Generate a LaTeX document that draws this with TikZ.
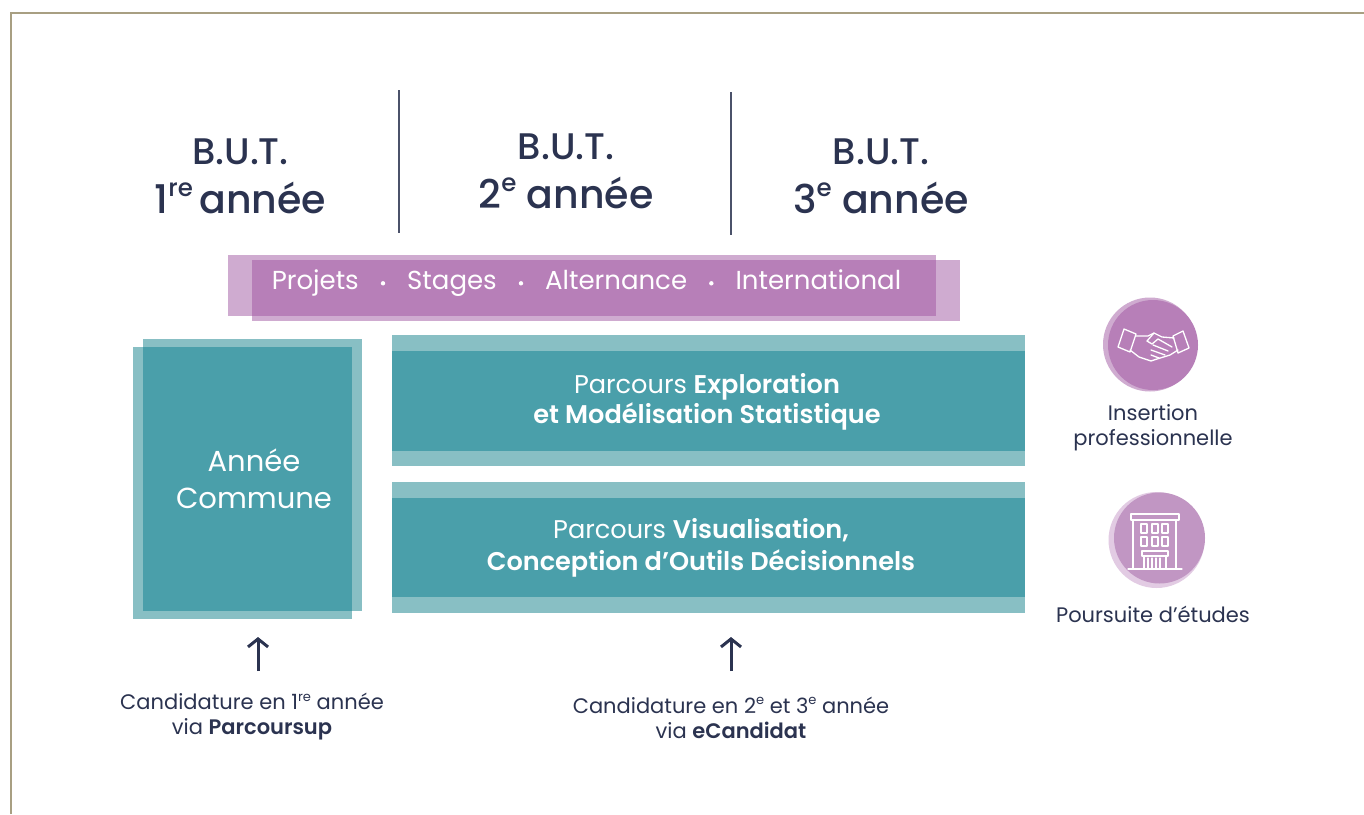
\documentclass[tikz,border=0pt]{standalone}
\usepackage{fontspec}
\setmainfont{Poppins}[BoldFont={Poppins SemiBold}]
\newfontfamily\medfont{Poppins Medium}
\definecolor{ink}{HTML}{2B3350}
\definecolor{purD}{HTML}{B77FB8}
\definecolor{purL}{HTML}{CFABD0}
\definecolor{purD2}{HTML}{C196C3}
\definecolor{purL2}{HTML}{E2CBE3}
\definecolor{tealD}{HTML}{4A9FAA}
\definecolor{tealL}{HTML}{88BFC4}
\definecolor{frame}{HTML}{A89F82}
\newcommand{\px}[1]{\fontsize{#1}{#1}\selectfont}
\newcommand{\sps}[1]{\raisebox{0.42em}{\scalebox{0.62}{#1}}}
\usetikzlibrary{arrows.meta}
\tikzset{
  x=1pt,y=-1pt,
  headtxt/.style={text=ink,align=center,font=\medfont\px{37},inner sep=0pt},
  boxtxt/.style={text=white,align=center,font=\px{25.6},inner sep=0pt},
  captxt/.style={text=ink,align=center,font=\px{21},inner sep=0pt},
  sep/.style={draw=ink!85,line width=1.1pt},
  uparrow/.style={draw=ink,line width=3pt,-{Straight Barb[length=8pt,width=20pt,line width=3pt]}},
  icon/.style={draw=white,line width=1.3pt,line join=round,line cap=round},
}
\begin{document}
\begin{tikzpicture}
\useasboundingbox (0,0) rectangle (1364,814);
\fill[white] (0,0) rectangle (1364,814);
\draw[frame,line width=2pt] (10.5,814) -- (10.5,12.5) -- (1364,12.5);

% separators
\coordinate (s1a) at (399,90); \coordinate (s1b) at (399,233);
\coordinate (s2a) at (731,92); \coordinate (s2b) at (731,235);
\draw[sep] (s1a) -- (s1b);
\draw[sep] (s2a) -- (s2b);

% headers
\node[headtxt] (h1) at (240.5,176) {B.U.T.\\[12pt]{\px{39.5}1\sps{re}\,année}};
\node[headtxt] (h2) at (566,171) {B.U.T.\\[12pt]{\px{39.5}2\sps{e} année}};
\node[headtxt] (h3) at (881,176) {B.U.T.\\[12pt]{\px{39.5}3\sps{e} année}};

% purple band
\fill[purL] (228,255) rectangle (936,316);
\fill[purL] (252,260) rectangle (960,321);
\fill[purD] (252,260) rectangle (936,316);
\node[text=white,font=\px{26},inner sep=0pt,anchor=base] (band) at (586.5,289)
  {Projets\hspace{22pt}\raisebox{3.5pt}{\tikz\fill[white] (0,0) circle (2.2pt);}\hspace{22pt}Stages\hspace{22pt}\raisebox{3.5pt}{\tikz\fill[white] (0,0) circle (2.2pt);}\hspace{22pt}Alternance\hspace{22pt}\raisebox{3.5pt}{\tikz\fill[white] (0,0) circle (2.2pt);}\hspace{22pt}International};

% common year box
\fill[tealL] (133,347) rectangle (352,619);
\fill[tealL] (143,339) rectangle (362,611);
\fill[tealD] (143,347) rectangle (352,611);
\node[text=white,align=center,font=\px{29},inner sep=0pt] (commune) at (254,479) {Année\\[8pt]Commune};

% parcours boxes
\fill[tealL] (392,335) rectangle (1025,466);
\fill[tealD] (392,351) rectangle (1025,451);
\node[boxtxt] (p1) at (707,401.5) {Parcours \textbf{Exploration}\\[1.5pt]\textbf{et Modélisation Statistique}};
\fill[tealL] (392,482) rectangle (1025,613);
\fill[tealD] (392,498) rectangle (1025,597);
\node[boxtxt] (p2) at (701,548) {Parcours \textbf{Visualisation,}\\[6pt]\textbf{Conception d’Outils Décisionnels}};

% arrows and captions
\node[captxt] (c1) at (252,717) {Candidature en 1\sps{re} année\\[4pt]via \textbf{Parcoursup}};
\node[captxt] (c2) at (731,718) {Candidature en 2\sps{e} et 3\sps{e} année\\[4pt]via \textbf{eCandidat}};
\coordinate (a1s) at (258,671); \coordinate (a1e) at (258,637);
\coordinate (a2s) at (731,671); \coordinate (a2e) at (731,637);
\draw[uparrow] (a1s) -- (a1e);
\draw[uparrow] (a2s) -- (a2e);

% handshake circle
\fill[purL] (1150,344.5) circle (47);
\fill[purD] (1153,345) circle (45);
\begin{scope}[icon]
  \draw (1124,329) -- (1136,334) -- (1130,352) -- (1118,347) -- cycle;
  \draw (1173,336) -- (1183,331) -- (1189,348) -- (1178,353) -- cycle;
  \draw (1136,336) -- (1148,336) -- (1154,333) -- (1162,337) -- (1174,338);
  \draw (1130,350) -- (1139,357) -- (1151,361) -- (1157,359) -- (1170,355) -- (1178,350);
  \draw (1154,333) -- (1147,341) -- (1152,344) -- (1158,339) -- (1172,347);
  \draw (1153,345) -- (1168,351);
  \draw (1151,350) -- (1165,355);
  \draw (1151,355) -- (1159,358);
\end{scope}

% building circle
\fill[purL2] (1156.5,540) circle (48);
\fill[purD2] (1159.5,538) circle (45.5);
\begin{scope}[icon,line width=1.1pt]
  \draw (1131,514) rectangle (1179,520);
  \draw (1133,520) -- (1133,569);
  \draw (1176,520) -- (1176,569);
  \draw (1128,569) -- (1182,569);
  \foreach \wx in {1141,1152,1162}{
    \draw (\wx,524) rectangle ++(6,9);
    \draw (\wx,537) rectangle ++(6,9);
  }
  \draw (1142,551) rectangle (1168,556);
  \draw (1144,556) -- (1144,569);
  \draw (1166,556) -- (1166,569);
  \foreach \cx in {1148,1152,1156,1160}{\draw (\cx,558) -- (\cx,569);}
\end{scope}

% outcome labels
\node[captxt] (o1) at (1153,427.5) {Insertion\\[3.5pt]professionnelle};
\node[captxt] (o2) at (1153,614) {Poursuite d’études};
\end{tikzpicture}
\end{document}
